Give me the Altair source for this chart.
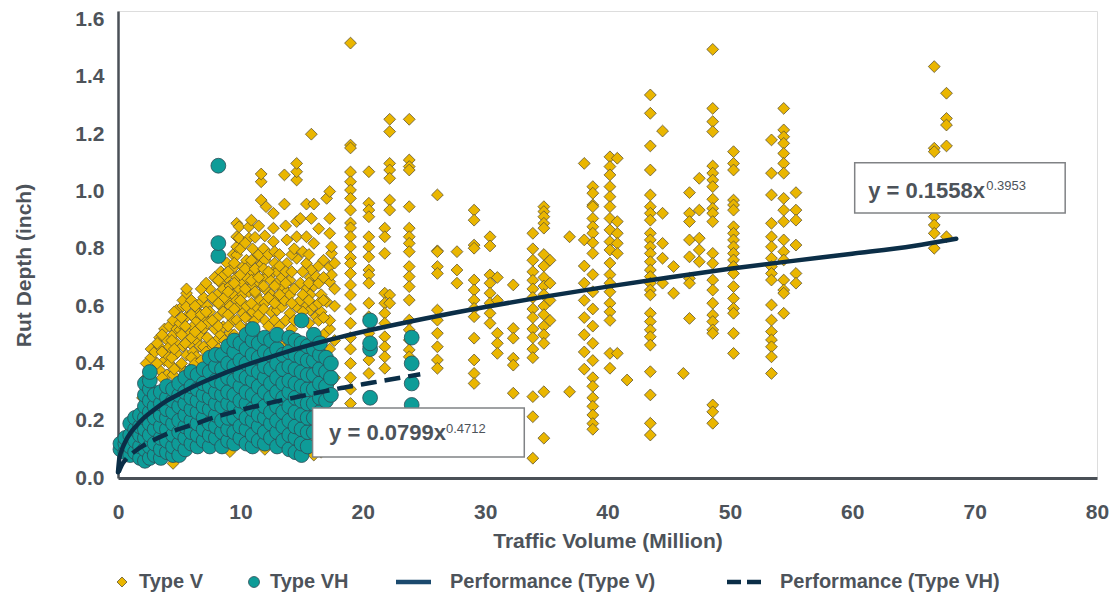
import altair as alt
import pandas as pd

GOLD = "#EAB600"
GOLD_EDGE = "#5E5434"
TEAL = "#0E9C98"
TEAL_EDGE = "#2E4B55"
NAVY = "#0B2E47"
TEXT = "#4D535A"
FONT = "Liberation Sans"

X_TICKS = [0, 10, 20, 30, 40, 50, 60, 70, 80]
Y_TICKS = [0.0, 0.2, 0.4, 0.6, 0.8, 1.0, 1.2, 1.4, 1.6]

# Type V points, grouped by traffic-volume column
TYPE_V_X = [0.4, 1.2, 2.0, 2.3, 2.7, 3.0, 3.4, 3.8, 4.0, 4.2, 4.5, 4.8, 5.07, 5.3, 5.6, 5.9,
            6.15, 6.4, 6.7, 7.0, 7.3, 7.5, 7.9, 8.1, 8.4, 8.6, 8.9, 9.15, 9.4, 9.7, 9.9,
            10.2, 10.5, 10.7, 11.0, 11.3, 11.6, 11.7, 12.0, 12.1, 12.5, 12.7, 13.0, 13.4,
            13.6, 13.8, 14.05, 14.6, 14.9, 15.4, 15.7, 15.8, 16.0, 16.2, 16.6, 17.05, 17.3,
            17.45,
            3.2, 3.6, 4.4, 4.6, 5.2, 5.5, 6.0, 6.3, 6.8, 7.2, 7.7, 8.2, 8.7, 9.0, 9.5, 10.0,
            10.4, 10.9, 11.2, 11.5, 11.9, 12.3, 12.8, 13.2, 13.7, 14.2, 14.4, 15.1, 15.6,
            16.4, 16.8, 17.7,
            19.0, 20.5, 21.8, 22.2, 23.8, 26.1, 27.7, 29.1, 30.4, 31.0, 32.3, 33.9,
            34.8, 35.3, 36.9, 38.1, 38.8, 40.2, 40.8, 41.6, 43.5, 44.5, 45.4, 46.2, 46.7,
            47.5, 48.6, 50.3, 53.4, 54.4, 55.4, 66.7, 67.7]
TYPE_V_Y = [
    [0.12], [0.14, 0.18], [0.10, 0.16, 0.22, 0.28], [0.07, 0.13, 0.20, 0.26, 0.31, 0.35, 0.40],
    [0.42, 0.45], [0.10, 0.38, 0.44], [0.377, 0.458, 0.49], [0.41, 0.52], [0.36, 0.43, 0.482],
    [0.40, 0.458, 0.53], [0.051, 0.36, 0.50, 0.55], [0.435, 0.47, 0.52, 0.586],
    [0.388, 0.517, 0.54], [0.46, 0.60, 0.62], [0.429, 0.563, 0.598, 0.645, 0.66],
    [0.38, 0.47, 0.505], [0.12, 0.388, 0.44, 0.53], [0.423, 0.48, 0.551, 0.58],
    [0.46, 0.50, 0.61], [0.458, 0.522, 0.56, 0.63], [0.40, 0.49, 0.54, 0.60],
    [0.447, 0.58, 0.66], [0.43, 0.52, 0.62, 0.70], [0.482, 0.56, 0.64],
    [0.50, 0.60, 0.68, 0.72], [0.388, 0.528, 0.58, 0.66], [0.46, 0.62, 0.70, 0.75],
    [0.092, 0.423, 0.505, 0.60, 0.67], [0.55, 0.64, 0.732, 0.78],
    [0.458, 0.551, 0.62, 0.70, 0.778, 0.807, 0.842, 0.889], [0.60, 0.66, 0.837, 0.877],
    [0.40, 0.447, 0.575, 0.64, 0.68, 0.738], [0.52, 0.60, 0.70, 0.76],
    [0.47, 0.563, 0.65, 0.738, 0.837, 0.877], [0.58, 0.67, 0.72, 0.80],
    [0.598, 0.64, 0.70, 0.77], [0.493, 0.62, 0.68, 0.74], [0.97, 1.034, 1.061],
    [0.10, 0.55, 0.61, 0.66, 0.70, 0.761, 0.845], [0.947], [0.482, 0.58, 0.64, 0.69],
    [0.72, 0.825, 0.872, 0.924], [0.586, 0.63, 0.68, 0.72], [0.458, 0.598, 0.66, 0.70],
    [0.62, 0.956, 1.058], [0.65, 0.749, 0.831], [0.133, 0.47, 0.575, 0.64, 0.69],
    [0.598, 0.767, 0.842, 0.895, 1.04, 1.069, 1.098], [0.62, 0.68, 0.906],
    [0.60, 0.66, 0.749, 0.842, 0.956], [0.586, 0.64, 0.70], [0.726, 0.906, 1.20],
    [0.08, 0.12, 0.60, 0.67, 0.819, 0.956], [0.563, 0.703], [0.09, 0.14, 0.58, 0.64],
    [0.615, 0.976],
    [0.10, 0.15, 0.20, 0.28, 0.33, 0.40, 0.45, 0.52, 0.55, 0.685, 0.738, 0.854, 0.906, 1.0],
    [0.709, 0.784, 0.807],
    [0.40, 0.47], [0.35, 0.44, 0.50], [0.42, 0.48], [0.38, 0.45, 0.58], [0.40, 0.50, 0.56],
    [0.37, 0.47, 0.53], [0.42, 0.49, 0.57, 0.62], [0.40, 0.51, 0.60], [0.41, 0.53, 0.57, 0.66],
    [0.44, 0.58, 0.68], [0.47, 0.55, 0.63], [0.45, 0.53, 0.61, 0.69], [0.48, 0.63, 0.71],
    [0.53, 0.57, 0.65, 0.72], [0.50, 0.59, 0.68, 0.75], [0.53, 0.62, 0.71, 0.80],
    [0.56, 0.66, 0.73, 0.82], [0.53, 0.61, 0.69, 0.76, 0.90], [0.55, 0.65, 0.73, 0.84],
    [0.57, 0.70, 0.78, 0.88], [0.59, 0.67, 0.73, 0.80], [0.53, 0.63, 0.72, 0.78],
    [0.55, 0.61, 0.67, 0.75, 0.79], [0.53, 0.64, 0.74, 0.78], [0.55, 0.68, 0.72, 0.88],
    [0.52, 0.61, 0.72, 0.78], [0.55, 0.66, 0.80], [0.58, 0.64, 0.72, 0.79],
    [0.54, 0.62, 0.68, 0.78], [0.55, 0.61, 0.68, 0.74, 0.87], [0.50, 0.56, 0.62, 0.70, 0.76],
    [0.35, 0.48, 0.60, 0.66, 0.75],
    [1.518, 1.162, 1.152, 1.068, 1.034, 1.005, 0.976, 0.935, 0.89, 0.873, 0.842, 0.807, 0.77,
     0.749, 0.714, 0.674, 0.639, 0.59, 0.54, 0.49, 0.45, 0.40, 0.35, 0.31, 0.26],
    [1.069, 0.959, 0.935, 0.912, 0.842, 0.807, 0.772, 0.726, 0.709, 0.68, 0.61, 0.563, 0.505,
     0.458, 0.412, 0.365],
    [0.872, 0.842, 0.784, 0.645, 0.61, 0.575, 0.54, 0.493, 0.458, 0.423, 0.383],
    [1.252, 1.209, 1.098, 1.075, 1.046, 0.970, 0.935, 0.639, 0.61],
    [1.252, 1.11, 1.087, 1.075, 0.947, 0.872, 0.842, 0.819, 0.79, 0.738, 0.703, 0.668, 0.621,
     0.551, 0.517, 0.482, 0.447, 0.423],
    [0.988, 0.793, 0.79, 0.738, 0.714, 0.586, 0.551, 0.505, 0.458, 0.412, 0.383],
    [0.79, 0.726, 0.68],
    [0.935, 0.90, 0.813, 0.802, 0.691, 0.656, 0.621, 0.592, 0.563, 0.488, 0.412, 0.365, 0.33],
    [0.842, 0.81, 0.709, 0.68, 0.645, 0.61, 0.575, 0.54],
    [0.70, 0.62, 0.505, 0.47, 0.435],
    [0.674, 0.522, 0.488, 0.418, 0.394, 0.296],
    [0.854, 0.80, 0.76, 0.72, 0.69, 0.66, 0.63, 0.59, 0.56, 0.52, 0.49, 0.45, 0.42, 0.284,
     0.214, 0.069],
    [0.947, 0.93, 0.912, 0.889, 0.872, 0.78, 0.74, 0.70, 0.67, 0.64, 0.60, 0.57, 0.53, 0.50,
     0.47, 0.301, 0.139],
    [0.76, 0.68, 0.62, 0.55],
    [0.842, 0.301],
    [1.098, 0.831, 0.74, 0.68, 0.62, 0.56, 0.50, 0.44, 0.38],
    [1.017, 0.994, 0.953, 0.947, 0.906, 0.877, 0.854, 0.821, 0.784, 0.71, 0.65, 0.59, 0.53,
     0.47, 0.41, 0.35, 0.32, 0.28, 0.25, 0.22, 0.19, 0.17],
    [1.121, 1.087, 1.058, 1.017, 0.982, 0.947, 0.906, 0.866, 0.825, 0.796, 0.75, 0.71, 0.68,
     0.65, 0.61, 0.58, 0.55, 0.435, 0.383],
    [1.116, 0.895, 0.854, 0.819, 0.784, 0.435],
    [0.342],
    [1.337, 1.273, 1.159, 1.075, 0.988, 0.947, 0.924, 0.9, 0.854, 0.831, 0.807, 0.784, 0.755,
     0.726, 0.703, 0.68, 0.656, 0.639, 0.575, 0.546, 0.517, 0.493, 0.464, 0.371, 0.29, 0.191,
     0.15],
    [1.211, 0.924, 0.819, 0.767, 0.68],
    [0.738, 0.645],
    [0.365],
    [0.996, 0.924, 0.895, 0.831, 0.772, 0.697, 0.68, 0.557],
    [1.046, 0.935, 0.837, 0.796, 0.755],
    [1.496, 1.29, 1.244, 1.209, 1.089, 1.064, 1.04, 1.017, 0.973, 0.941, 0.924, 0.895, 0.784,
     0.749, 0.691, 0.656, 0.61, 0.569, 0.546, 0.517, 0.505, 0.255, 0.231, 0.191],
    [1.139, 1.098, 1.075, 0.97, 0.953, 0.935, 0.877, 0.854, 0.831, 0.807, 0.784, 0.761, 0.738,
     0.714, 0.668, 0.627, 0.592, 0.575, 0.505, 0.435],
    [1.18, 1.064, 0.988, 0.889, 0.842, 0.807, 0.767, 0.738, 0.714, 0.691, 0.604, 0.551, 0.511,
     0.482, 0.458, 0.423, 0.365],
    [1.29, 1.215, 1.191, 1.168, 1.133, 1.098, 1.064, 0.976, 0.935, 0.895, 0.831, 0.79, 0.761,
     0.691, 0.656, 0.645, 0.575],
    [0.996, 0.935, 0.9, 0.813, 0.714, 0.68],
    [1.436, 1.151, 1.139, 1.0, 0.96, 0.912, 0.883, 0.854, 0.802],
    [1.343, 1.255, 1.232, 1.159, 0.842],
]

# Type VH points, grouped by traffic-volume column
TYPE_VH_X = [0.2, 0.6, 1.0, 1.4, 1.8, 2.2, 2.6, 3.0, 3.5, 4.0, 4.5, 5.0, 5.5, 6.0, 6.5, 7.0,
             7.5, 8.0, 8.2, 8.5, 9.0, 9.5, 10.0, 10.5, 11.0, 11.5, 12.0, 12.5, 13.0, 13.5,
             14.0, 14.5, 15.0, 15.5, 16.0, 16.5, 17.0, 17.4, 20.6, 24.0]
TYPE_VH_Y = [
    [0.10, 0.12], [0.09, 0.12, 0.14], [0.08, 0.11, 0.15, 0.19], [0.09, 0.13, 0.17, 0.21],
    [0.07, 0.11, 0.15, 0.18, 0.22], [0.06, 0.10, 0.14, 0.17, 0.21, 0.25, 0.29, 0.33],
    [0.07, 0.11, 0.15, 0.19, 0.23, 0.27, 0.31, 0.34, 0.37],
    [0.08, 0.12, 0.17, 0.21, 0.25, 0.29], [0.07, 0.10, 0.14, 0.18, 0.22, 0.26, 0.30],
    [0.09, 0.13, 0.17, 0.21, 0.24, 0.28, 0.32], [0.08, 0.11, 0.15, 0.19, 0.23, 0.27, 0.31],
    [0.08, 0.12, 0.16, 0.20, 0.25, 0.29, 0.33], [0.10, 0.14, 0.18, 0.22, 0.26, 0.30, 0.35],
    [0.12, 0.16, 0.20, 0.24, 0.28, 0.32, 0.37], [0.11, 0.15, 0.19, 0.23, 0.27, 0.31, 0.36],
    [0.13, 0.17, 0.21, 0.25, 0.29, 0.33, 0.38], [0.11, 0.15, 0.19, 0.24, 0.28, 0.32, 0.37, 0.42],
    [0.14, 0.18, 0.22, 0.26, 0.30, 0.34, 0.39, 0.43], [0.775, 0.82, 1.09],
    [0.11, 0.16, 0.20, 0.25, 0.29, 0.33, 0.38, 0.43],
    [0.13, 0.17, 0.21, 0.26, 0.30, 0.35, 0.40, 0.46],
    [0.12, 0.16, 0.21, 0.25, 0.29, 0.34, 0.39, 0.44, 0.48],
    [0.14, 0.18, 0.23, 0.27, 0.32, 0.36, 0.41, 0.47],
    [0.12, 0.17, 0.21, 0.26, 0.30, 0.35, 0.40, 0.45, 0.50],
    [0.11, 0.15, 0.20, 0.24, 0.29, 0.34, 0.38, 0.43, 0.48, 0.52],
    [0.13, 0.18, 0.22, 0.27, 0.32, 0.37, 0.42, 0.47],
    [0.12, 0.16, 0.21, 0.25, 0.30, 0.35, 0.39, 0.44, 0.49],
    [0.14, 0.19, 0.23, 0.28, 0.33, 0.38, 0.43, 0.48],
    [0.11, 0.16, 0.20, 0.25, 0.30, 0.35, 0.40, 0.45, 0.50],
    [0.13, 0.18, 0.23, 0.28, 0.33, 0.38, 0.43],
    [0.10, 0.15, 0.20, 0.25, 0.30, 0.34, 0.39, 0.44, 0.49],
    [0.09, 0.14, 0.18, 0.23, 0.28, 0.33, 0.38, 0.43, 0.48],
    [0.08, 0.12, 0.17, 0.22, 0.27, 0.32, 0.37, 0.42, 0.47, 0.55],
    [0.11, 0.16, 0.21, 0.26, 0.31, 0.36, 0.41, 0.46],
    [0.16, 0.21, 0.26, 0.31, 0.36, 0.41, 0.45, 0.50],
    [0.18, 0.23, 0.28, 0.33, 0.38, 0.43, 0.47],
    [0.22, 0.27, 0.32, 0.37, 0.42], [0.29, 0.35, 0.40],
    [0.28, 0.45, 0.47, 0.55], [0.255, 0.33, 0.40, 0.49],
]

# Performance curves
FIT_V_X = [0.0, 0.1, 0.3, 0.6, 1, 1.5, 2, 3, 4, 5, 6, 8, 10, 12, 15, 18, 21, 25, 30, 35,
           40, 45, 50, 55, 60, 65, 68.5]
FIT_V_Y = [0.02, 0.065, 0.097, 0.127, 0.156, 0.182, 0.205, 0.24, 0.27, 0.293, 0.316, 0.354,
           0.387, 0.416, 0.456, 0.49, 0.52, 0.556, 0.597, 0.634, 0.668, 0.70, 0.73, 0.757,
           0.783, 0.81, 0.835]
FIT_VH_X = [0.05, 0.3, 0.7, 1, 1.5, 2, 3, 4, 5, 6, 8, 10, 12, 14, 16, 18, 20, 22, 24.7]
FIT_VH_Y = [0.02, 0.045, 0.068, 0.08, 0.097, 0.111, 0.134, 0.154, 0.171, 0.185, 0.213, 0.237,
            0.258, 0.277, 0.295, 0.312, 0.327, 0.342, 0.362]

# Equation annotations (anchored in data units)
EQ_TEXT = ["y = 0.1558x", "y = 0.0799x"]
EQ_EXP = ["0.3953", "0.4712"]
EQ_BOX_X1 = [60.2, 15.9]
EQ_BOX_X2 = [77.4, 33.2]
EQ_BOX_Y1 = [0.925, 0.073]
EQ_BOX_Y2 = [1.10, 0.244]
EQ_TEXT_X = [61.3, 17.25]
EQ_TEXT_Y = [0.977, 0.133]
EQ_EXP_X = [70.95, 26.8]
EQ_EXP_Y = [1.005, 0.157]

LEGEND_LABELS = ["Type V", "Type VH", "Performance (Type V)", "Performance (Type VH)"]

W, H = 979, 467

df_v = pd.DataFrame([(x, y) for x, ys in zip(TYPE_V_X, TYPE_V_Y) for y in ys], columns=["x", "y"])
df_vh = pd.DataFrame([(x, y) for x, ys in zip(TYPE_VH_X, TYPE_VH_Y) for y in ys], columns=["x", "y"])
df_fv = pd.DataFrame({"x": FIT_V_X, "y": FIT_V_Y})
df_fvh = pd.DataFrame({"x": FIT_VH_X, "y": FIT_VH_Y})
df_box = pd.DataFrame({"x": EQ_BOX_X1, "x2": EQ_BOX_X2, "y": EQ_BOX_Y1, "y2": EQ_BOX_Y2})
df_eq = pd.DataFrame({"x": EQ_TEXT_X, "y": EQ_TEXT_Y, "t": EQ_TEXT})
df_exp = pd.DataFrame({"x": EQ_EXP_X, "y": EQ_EXP_Y, "t": EQ_EXP})
one = pd.DataFrame({"k": [0]})

xs = alt.Scale(domain=[0, 80], nice=False, zero=False)
ys = alt.Scale(domain=[0, 1.63], nice=False, zero=False)

x_axis = alt.Axis(values=X_TICKS, format="d", grid=False,
                  ticks=False, tickSize=0, labelPadding=23, labelFontSize=21, labelFont=FONT,
                  labelFontWeight="bold", labelColor=TEXT, domainColor="#4A5057", domainWidth=3,
                  titleFont=FONT, titleFontSize=21, titleFontWeight="bold", titleColor=TEXT,
                  titleY=63, titleBaseline="middle", labelFlush=False)
y_axis = alt.Axis(values=Y_TICKS, format=".1f", grid=False,
                  ticks=False, tickSize=0, labelPadding=14, labelFontSize=21, labelFont=FONT,
                  labelFontWeight="bold", labelColor=TEXT, domainColor="#4A5057", domainWidth=2.5,
                  titleFont=FONT, titleFontSize=21, titleFontWeight="bold", titleColor=TEXT,
                  titleX=-94, titleY=254, titleBaseline="middle", labelFlush=False)

X_ENC = alt.X("x:Q", scale=xs, axis=x_axis, title="Traffic Volume (Million)")
Y_ENC = alt.Y("y:Q", scale=ys, axis=y_axis, title="Rut Depth (inch)")

pts_v = alt.Chart(df_v).mark_point(shape="diamond", filled=True, size=140, fill=GOLD,
                                   stroke=GOLD_EDGE, strokeWidth=0.8, opacity=1).encode(
    x=X_ENC, y=Y_ENC)

pts_vh = alt.Chart(df_vh).mark_point(shape="circle", filled=True, size=220, fill=TEAL,
                                     stroke=TEAL_EDGE, strokeWidth=0.8, opacity=1).encode(
    x=X_ENC, y=Y_ENC)

fit_v = alt.Chart(df_fv).mark_line(color=NAVY, strokeWidth=4.5, interpolate="monotone",
                                   strokeCap="round").encode(x=X_ENC, y=Y_ENC)

fit_vh = alt.Chart(df_fvh).mark_line(color=NAVY, strokeWidth=4.5, interpolate="monotone",
                                     strokeDash=[16, 8]).encode(x=X_ENC, y=Y_ENC)

boxes = alt.Chart(df_box).mark_rect(fill="white", stroke="#808285", strokeWidth=1.5).encode(
    x=X_ENC, x2="x2:Q", y=Y_ENC, y2="y2:Q")

eq_text = alt.Chart(df_eq).mark_text(align="left", baseline="alphabetic", font=FONT,
                                     fontSize=22, fontWeight="bold", color=TEXT).encode(
    x=X_ENC, y=Y_ENC, text="t:N")

eq_exp = alt.Chart(df_exp).mark_text(align="left", baseline="alphabetic", font=FONT,
                                     fontSize=13, color=TEXT).encode(
    x=X_ENC, y=Y_ENC, text="t:N")

# legend (drawn below the plot)
LY = 571
leg_diamond = alt.Chart(one).mark_point(shape="diamond", filled=True, size=100, fill=GOLD,
                                        stroke=GOLD_EDGE, strokeWidth=0.8, opacity=1).encode(
    x=alt.value(4), y=alt.value(LY))
leg_circle = alt.Chart(one).mark_point(shape="circle", filled=True, size=120, fill=TEAL,
                                       stroke=TEAL_EDGE, strokeWidth=0.8, opacity=1).encode(
    x=alt.value(136), y=alt.value(LY))
leg_solid = alt.Chart(one).mark_rule(color="#1B4A6E", strokeWidth=4.5).encode(
    x=alt.value(278), x2=alt.value(313), y=alt.value(LY))
leg_dash = alt.Chart(one).mark_rule(color=NAVY, strokeWidth=4.5, strokeDash=[14, 6]).encode(
    x=alt.value(609), x2=alt.value(643), y=alt.value(LY))

leg_texts = []
for lbl, px in zip(LEGEND_LABELS, [21, 152, 332, 662]):
    leg_texts.append(alt.Chart(one).mark_text(align="left", baseline="middle", font=FONT,
                                              fontSize=20, fontWeight="bold", color=TEXT).encode(
        x=alt.value(px), y=alt.value(LY), text=alt.value(lbl)))

chart = alt.layer(pts_v, pts_vh, fit_v, fit_vh, boxes, eq_text, eq_exp,
                  leg_diamond, leg_circle, leg_solid, leg_dash, *leg_texts).properties(
    width=W, height=H,
    autosize=alt.AutoSizeParams(type="none"),
    padding={"left": 118, "top": 11, "right": 13, "bottom": 122},
).configure_view(strokeWidth=0).configure(background="white")

chart.save("out.html", embed_options={"renderer": "svg", "actions": False})
